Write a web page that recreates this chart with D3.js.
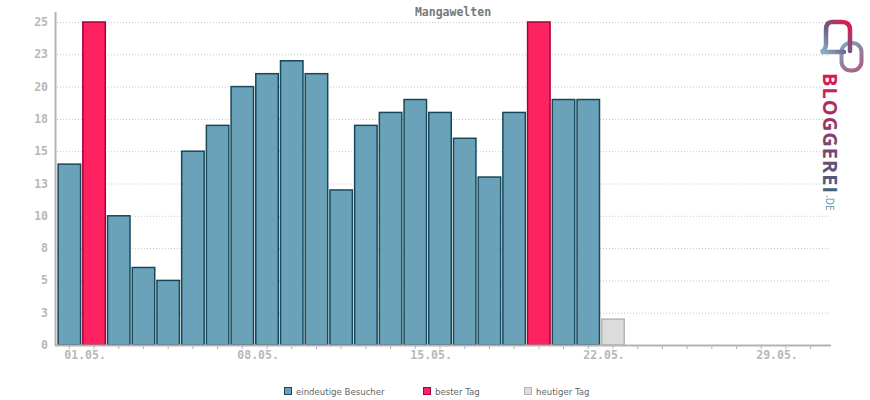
<!DOCTYPE html>
<html>
<head>
<meta charset="utf-8">
<script src="https://cdn.jsdelivr.net/npm/d3@7"></script>
<style>
  body { margin: 0; background: #fff; }
  svg { display: block; }
</style>
</head>
<body>
<svg id="chart" width="870" height="400"></svg>
<script>
// chart data
const days = d3.range(1, 32);
const visitors = [14, 25, 10, 6, 5, 15, 17, 20, 21, 22, 21, 12, 17, 18, 19, 18, 16, 13, 18, 25, 19, 19, 2];
const bestDays = [2, 20];
const today = 23;
const labelDays = [1, 8, 15, 22, 29];
const yTicks = [0, 2.5, 5, 7.5, 10, 12.5, 15, 17.5, 20, 22.5, 25];
const legendItems = ['eindeutige Besucher', 'bester Tag', 'heutiger Tag'];

const mono = '"DejaVu Sans Mono", monospace';
const svg = d3.select('#chart');

const x = d3.scaleBand()
    .domain(days)
    .range([57, 823])
    .paddingInner(0.09)
    .paddingOuter(0.045);

const y = d3.scaleLinear()
    .domain([0, 25])
    .range([345, 22]);

const dd = (n) => String(n).padStart(2, '0');

// grid lines
svg.append('g')
    .selectAll('line')
    .data(yTicks.slice(1))
    .join('line')
    .attr('x1', 57)
    .attr('x2', 830)
    .attr('y1', (d) => y(d) + 0.5)
    .attr('y2', (d) => y(d) + 0.5)
    .attr('stroke', '#c8c8c8')
    .attr('stroke-dasharray', '1,2');

// bars
const kind = (i) => {
  if (i + 1 === today) return 'today';
  if (bestDays.includes(i + 1)) return 'best';
  return 'normal';
};
const fills = {normal: '#6aa2ba', best: '#ff2260', today: '#dcdcdc'};
const strokes = {normal: '#17485a', best: '#a8003a', today: '#b4b4b4'};

svg.append('g')
    .selectAll('rect')
    .data(visitors)
    .join('rect')
    .attr('x', (d, i) => x(i + 1))
    .attr('y', (d) => y(d))
    .attr('width', x.bandwidth())
    .attr('height', (d) => y(0) - y(d))
    .attr('fill', (d, i) => fills[kind(i)])
    .attr('stroke', (d, i) => strokes[kind(i)])
    .attr('stroke-width', 1.5);

// x axis
const xAxis = svg.append('g');
xAxis.append('line')
    .attr('x1', 55).attr('x2', 831)
    .attr('y1', 345.5).attr('y2', 345.5)
    .attr('stroke', '#b4b4b4')
    .attr('stroke-width', 2);
xAxis.selectAll('line.tick')
    .data(days)
    .join('line')
    .attr('class', 'tick')
    .attr('x1', (d) => x(d) + x.bandwidth() / 2)
    .attr('x2', (d) => x(d) + x.bandwidth() / 2)
    .attr('y1', 346)
    .attr('y2', 349)
    .attr('stroke', '#b4b4b4');
xAxis.selectAll('text')
    .data(labelDays)
    .join('text')
    .attr('x', (d) => x(d) + x.bandwidth() / 2 - 5)
    .attr('y', 358.5)
    .attr('font-family', mono)
    .attr('font-size', 11.5)
    .attr('font-weight', 'bold')
    .attr('fill', '#b8b8b8')
    .text((d) => `${dd(d)}.05.`);

// y axis
const yAxis = svg.append('g');
yAxis.append('line')
    .attr('x1', 55.5).attr('x2', 55.5)
    .attr('y1', 12).attr('y2', 346)
    .attr('stroke', '#b4b4b4')
    .attr('stroke-width', 2);
yAxis.selectAll('text')
    .data(yTicks)
    .join('text')
    .attr('x', 48)
    .attr('y', (d) => y(d) + 4)
    .attr('text-anchor', 'end')
    .attr('font-family', mono)
    .attr('font-size', 11.5)
    .attr('font-weight', 'bold')
    .attr('fill', '#b8b8b8')
    .text((d) => Math.round(d));

// title
svg.append('text')
    .attr('x', 453)
    .attr('y', 16)
    .attr('text-anchor', 'middle')
    .attr('font-family', mono)
    .attr('font-size', 11.5)
    .attr('font-weight', 'bold')
    .attr('fill', '#777')
    .text('Mangawelten');

// legend
const legendX = [284, 423, 524];
const legend = svg.append('g')
    .selectAll('g')
    .data(legendItems)
    .join('g')
    .attr('transform', (d, i) => `translate(${legendX[i]},387)`);
legend.append('rect')
    .attr('x', 0.5).attr('y', 0.5)
    .attr('width', 7).attr('height', 7)
    .attr('fill', (d, i) => fills[['normal', 'best', 'today'][i]])
    .attr('stroke', (d, i) => strokes[['normal', 'best', 'today'][i]]);
legend.append('text')
    .attr('x', 12)
    .attr('y', 7.5)
    .attr('font-family', '"DejaVu Sans", sans-serif')
    .attr('font-size', 8.6)
    .attr('fill', '#666')
    .text((d) => d);

// bloggerei logo
const defs = svg.append('defs');
const g1 = defs.append('linearGradient')
    .attr('id', 'txtgrad')
    .attr('gradientUnits', 'userSpaceOnUse')
    .attr('x1', 0).attr('y1', 0).attr('x2', 120).attr('y2', 0);
g1.append('stop').attr('offset', 0).attr('stop-color', '#e3154f');
g1.append('stop').attr('offset', 0.5).attr('stop-color', '#8a3d6c');
g1.append('stop').attr('offset', 1).attr('stop-color', '#44607f');
const g2 = defs.append('linearGradient')
    .attr('id', 'icongrad')
    .attr('gradientUnits', 'userSpaceOnUse')
    .attr('x1', 822).attr('y1', 50).attr('x2', 852).attr('y2', 22);
g2.append('stop').attr('offset', 0).attr('stop-color', '#8aaec0');
g2.append('stop').attr('offset', 0.45).attr('stop-color', '#6a5a85');
g2.append('stop').attr('offset', 1).attr('stop-color', '#f0104a');
const g3 = defs.append('linearGradient')
    .attr('id', 'icongrad2')
    .attr('gradientUnits', 'userSpaceOnUse')
    .attr('x1', 842).attr('y1', 45).attr('x2', 862).attr('y2', 70);
g3.append('stop').attr('offset', 0).attr('stop-color', '#78a6bc');
g3.append('stop').attr('offset', 1).attr('stop-color', '#b05a82');

const logo = svg.append('g');
logo.append('rect')
    .attr('x', 841.5).attr('y', 43)
    .attr('width', 20).attr('height', 27.5)
    .attr('rx', 9)
    .attr('fill', 'none')
    .attr('stroke', 'url(#icongrad2)')
    .attr('stroke-width', 4);
logo.append('path')
    .attr('d', 'M850,51 L850,30 Q850,22 842,22 L832,22 Q826,22 826,30 L826,44 Q826,50 821,52 L844,52')
    .attr('fill', 'none')
    .attr('stroke', 'url(#icongrad)')
    .attr('stroke-width', 4.5)
    .attr('stroke-linecap', 'round');
logo.append('text')
    .attr('transform', 'translate(823,73) rotate(90)')
    .attr('font-family', '"Open Sans", sans-serif')
    .attr('font-size', 20)
    .attr('font-weight', 'bold')
    .attr('textLength', 120)
    .attr('fill', 'url(#txtgrad)')
    .text('BLOGGEREI');
logo.append('text')
    .attr('transform', 'translate(826,195) rotate(90)')
    .attr('font-family', '"Open Sans", sans-serif')
    .attr('font-size', 10)
    .attr('fill', '#5a8fb0')
    .text('.DE');
</script>
</body>
</html>
